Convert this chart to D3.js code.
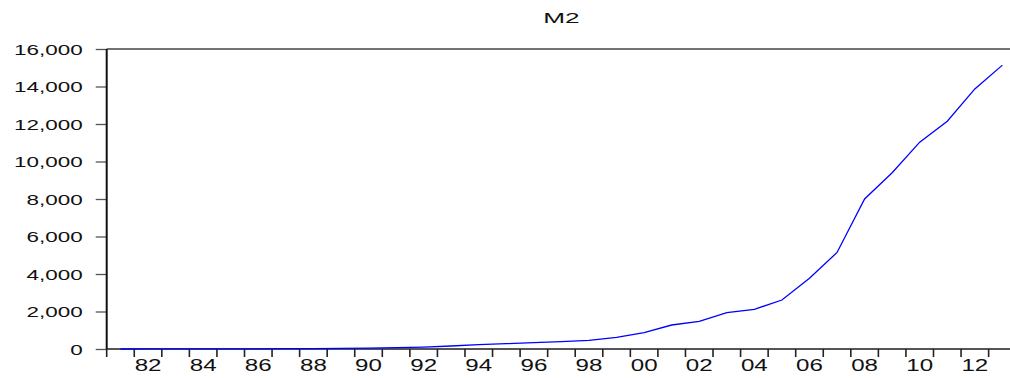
<!DOCTYPE html>
<html>
<head>
<meta charset="utf-8">
<script src="https://cdn.jsdelivr.net/npm/d3@7"></script>
<style>
  html, body { margin: 0; padding: 0; background: #fff; }
  svg { display: block; }
  text { font-family: "Liberation Sans", Arial, sans-serif; fill: #111; }
</style>
</head>
<body>
<div id="chart"></div>
<script>
// M2, annual 1981-2013
const years = d3.range(1981, 2014);
const m2 = [
  1, 2, 3, 5, 8, 12, 18, 25, 35, 50,
  72, 105, 160, 230, 283, 336, 390, 464, 624, 870,
  1280, 1470, 1936, 2117, 2613, 3770, 5150, 8000, 9400, 11030,
  12150, 13870, 15140
];
const yTicks = [0, 2000, 4000, 6000, 8000, 10000, 12000, 14000, 16000];
const labelYears = years.filter(y => y % 2 === 0);
const title = 'M2';

const W = 1010, H = 378;
const plotLeft = 106.7, plotTop = 49, plotBottom = 349;
const step = 27.56;
const plotRight = plotLeft + step * years.length;

const svg = d3.select('#chart').append('svg')
  .attr('width', W).attr('height', H);

const x = d3.scaleBand()
  .domain(years)
  .range([plotLeft, plotRight])
  .padding(0);

const y = d3.scaleLinear().domain([0, 16000]).range([plotBottom, plotTop]);

// frame: top line
svg.append('line')
  .attr('x1', plotLeft).attr('x2', W)
  .attr('y1', plotTop).attr('y2', plotTop)
  .attr('stroke', '#444').attr('stroke-width', 1.5);

// bottom axis line
svg.append('line')
  .attr('x1', plotLeft).attr('x2', W)
  .attr('y1', plotBottom).attr('y2', plotBottom)
  .attr('stroke', '#555').attr('stroke-width', 1.8);

// y axis
const yAxis = svg.append('g')
  .attr('transform', `translate(${plotLeft},0)`)
  .call(d3.axisLeft(y).tickValues(yTicks).tickSize(11).tickFormat(d3.format(',')));
yAxis.select('.domain').remove();
yAxis.selectAll('.tick line').attr('stroke', '#555').attr('stroke-width', 1.3);
yAxis.selectAll('.tick text')
  .attr('x', 0).attr('dy', '0.36em')
  .attr('transform', 'translate(-24,0) scale(1.55,1)')
  .style('font-size', '14.5px')
  .attr('fill', '#111');

// left axis line
svg.append('line')
  .attr('x1', plotLeft).attr('x2', plotLeft)
  .attr('y1', plotTop).attr('y2', plotBottom)
  .attr('stroke', '#111').attr('stroke-width', 2);

// x ticks at year boundaries
svg.append('g').selectAll('line')
  .data(years)
  .join('line')
  .attr('x1', d => x(d)).attr('x2', d => x(d))
  .attr('y1', plotBottom).attr('y2', plotBottom + 8)
  .attr('stroke', '#222').attr('stroke-width', 1.6);

// x labels centered on observations
const xAxis = svg.append('g')
  .attr('transform', `translate(0,${plotBottom})`)
  .call(d3.axisBottom(x).tickValues(labelYears).tickSize(0)
    .tickFormat(d => String(d).slice(2)));
xAxis.select('.domain').remove();
xAxis.selectAll('.tick text')
  .attr('y', 0).attr('dy', 0)
  .attr('transform', 'translate(0,21.5) scale(1.42,1)')
  .style('font-size', '17px')
  .attr('fill', '#111');

// series line
const line = d3.line()
  .x((d, i) => x(years[i]) + x.bandwidth() / 2)
  .y(d => y(d));

svg.append('path')
  .datum(m2)
  .attr('d', line)
  .attr('fill', 'none')
  .attr('stroke', '#0000ff')
  .attr('stroke-width', 1.3);

// title
svg.append('text')
  .attr('text-anchor', 'middle')
  .attr('transform', `translate(${(plotLeft + plotRight) / 2},22.7) scale(1.75,1)`)
  .style('font-size', '15px')
  .text(title);
</script>
</body>
</html>
